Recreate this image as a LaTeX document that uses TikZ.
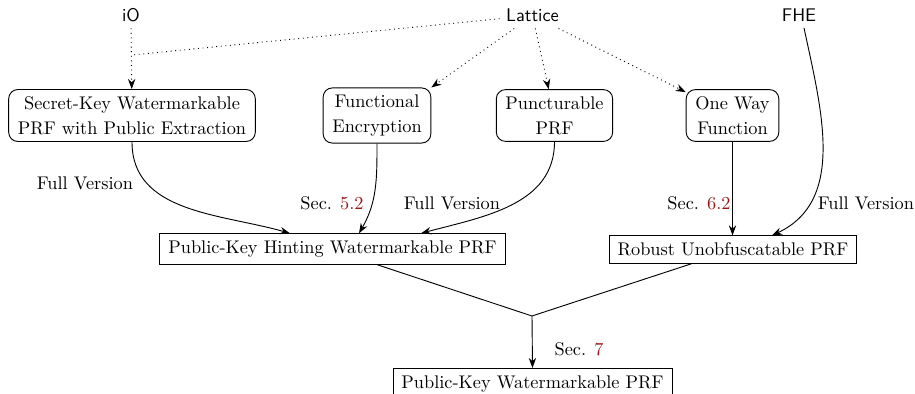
\documentclass[tikz,border=0pt]{standalone}
\usetikzlibrary{arrows.meta,calc}
\definecolor{secred}{rgb}{0.60,0.09,0.09}
\begin{document}
\begin{tikzpicture}[x=0.546pt,y=0.546pt,
  line width=0.5pt,
  src/.style={font=\sffamily, inner sep=3.33pt},
  rbox/.style={draw, rounded corners=5pt, align=center, inner xsep=5pt, inner ysep=3.8pt},
  sbox/.style={draw, inner xsep=4.6pt, inner ysep=3.8pt},
  lbl/.style={inner sep=0pt},
  dots/.style={dotted},
  arr/.style={-{Stealth[length=5.5pt,width=4pt]}},
]
\useasboundingbox (0,0) rectangle (915,-394);
% sources
\node[src] (io) at (131,-15) {iO};
\node[src] (lat) at (532.5,-15.5) {Lattice};
\node[src] (fhe) at (799,-15) {FHE};
% rounded boxes
\node[rbox] (sk) at (132,-115.5) {Secret-Key Watermarkable\\[1.5pt] PRF with Public Extraction};
\node[rbox] (fe) at (377,-115.5) {Functional\\[1.5pt] Encryption};
\node[rbox] (pp) at (554.5,-115.5) {Puncturable\\[1.5pt] PRF};
\node[rbox] (owf) at (732.5,-115.5) {One Way\\[1.5pt] Function};
% rectangular boxes
\node[sbox] (pkh) at (332.5,-249) {Public-Key Hinting Watermarkable PRF};
\node[sbox] (rob) at (733,-249.5) {Robust Unobfuscatable PRF};
\node[sbox, anchor=north] (pkw) at (532.5,-368) {Public-Key Watermarkable PRF};
\coordinate (j) at (132,-55);
\coordinate (m) at (532,-316);
% dotted
\draw[dots, arr] (io) -- (sk);
\draw[dots] (lat) -- (j);
\draw[dots, arr] (lat) -- (fe.north east);
\draw[dots, arr] (lat) -- (pp);
\draw[dots, arr] (lat) -- (owf);
% solid
\draw[arr] (sk.south) to[out=-90,in=164] ($(pkh.north)+(-42.5,0)$);
\draw[arr] (fe.south) to[out=-90,in=60] ($(pkh.north)+(26.5,0)$);
\draw[arr] (pp.south) to[out=-90,in=15] ($(pkh.north)+(88.5,0)$);
\draw[arr] (owf.south) -- (owf.south |- rob.north);
\draw[arr] ($(fhe.south)+(5,0)$) to[out=-78,in=25] ($(rob.north)+(39,0)$);
\draw ($(pkh.south)+(44.5,0)$) -- (m);
\draw ($(rob.south)+(-41,0)$) -- (m);
\draw[arr] (m) -- (pkw.north);
% labels
\node[lbl] (l1) at (85,-183) {Full Version};
\node[lbl] (l2) at (332,-203) {Sec. \textcolor{secred}{5.2}};
\node[lbl] (l3) at (452,-203) {Full Version};
\node[lbl] (l4) at (699,-203) {Sec. \textcolor{secred}{6.2}};
\node[lbl] (l5) at (866,-203) {Full Version};
\node[lbl] (l6) at (579,-349) {Sec. \textcolor{secred}{7}};
\end{tikzpicture}
\end{document}
